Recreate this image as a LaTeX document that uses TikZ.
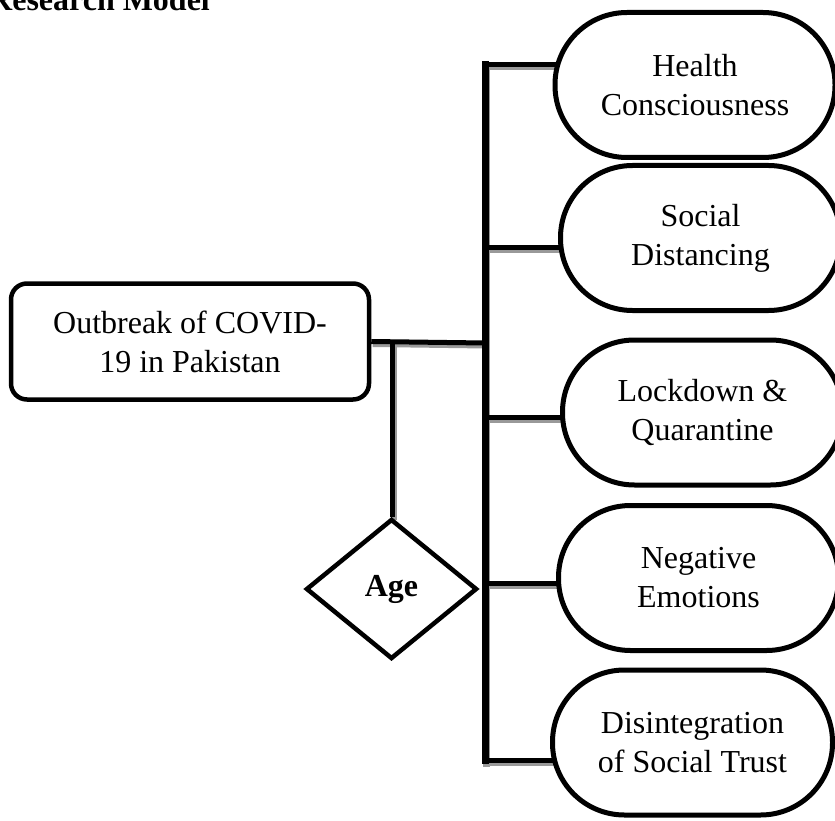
\documentclass[tikz,border=0pt]{standalone}
\usepackage{fontspec}
\setmainfont{Liberation Serif}
\usetikzlibrary{shapes.geometric,backgrounds,calc,positioning}

\begin{document}
\begin{tikzpicture}[x=1pt, y=-1pt,
		every node/.style = {font=\fontsize{32}{39}\selectfont},
		causebox/.style = {draw=black, line width=4.5pt, rounded corners=16pt, fill=white, align=center, minimum width=358pt, minimum height=116pt},
		effect/.style = {draw=black, line width=5pt, rounded corners=72pt, fill=white, align=center, minimum width=280pt, minimum height=145pt, inner sep=0pt},
		moderator/.style = {diamond, draw=black, line width=4.5pt, fill=white, inner sep=0pt, minimum width=171pt, minimum height=140pt, font=\fontsize{32}{39}\selectfont\bfseries},
		link/.style = {line width=5pt, black},
		linkshade/.style = {line width=5pt, black!40, transform canvas={shift={(1.5pt,-3pt)}}},
	]
	\useasboundingbox (0,0) rectangle (835,821);
	\node[anchor=base west, inner sep=0pt, font=\fontsize{32}{39}\selectfont\bfseries] (title) at (-11,11) {Research Model};
	% independent variable and moderator
	\node[causebox] (covid) at (190,341.5) {Outbreak of COVID-\\19 in Pakistan};
	\node[moderator] (age) at (391.5,589) {Age};
	% outcomes
	\node[effect] (health)   at (695,85)      {Health\\Consciousness};
	\node[effect] (social)   at (700.5,238)   {Social\\Distancing};
	\node[effect] (lockdown) at (702.5,412.5) {Lockdown \&\\Quarantine};
	\node[effect] (negative) at (698.5,578)   {Negative\\Emotions};
	\node[effect] (trust)    at (692.5,742.5) {Disintegration\\of Social Trust};
	% bar
	\coordinate (jc) at (485,343);
	\coordinate (split) at ($(covid.east)!0.19!(jc)$);
	\coordinate (b1) at (485,65);
	\coordinate (b2) at (485,247);
	\coordinate (b3) at (485,417);
	\coordinate (b4) at (485,583);
	\coordinate (b5) at (485,760);
	\begin{scope}[on background layer]
		\foreach \s in {linkshade, link} {
			\draw[\s] (covid.east) -- (jc);
			\draw[\s] (split) -- (split |- age.north);
			\draw[\s, line width=7pt, line cap=rect] (b1) -- (b5);
			\foreach \b/\n in {b1/health, b2/social, b3/lockdown, b4/negative, b5/trust}
				\draw[\s] (\b) -- (\b -| \n.center);
		}
	\end{scope}
\end{tikzpicture}
\end{document}
